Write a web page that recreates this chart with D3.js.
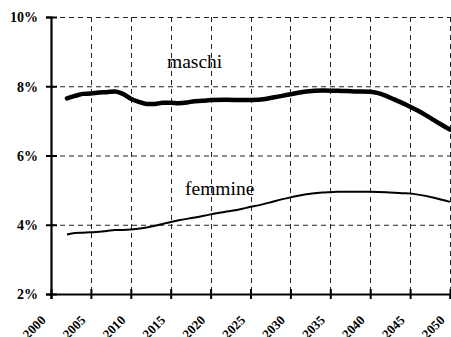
<!DOCTYPE html>
<html>
<head>
<meta charset="utf-8">
<script src="https://cdn.jsdelivr.net/npm/d3@7"></script>
<style>
  html, body { margin: 0; padding: 0; background: #fff; }
  svg { display: block; }
</style>
</head>
<body>
<svg id="chart" width="451" height="337"></svg>
<script>
// Quota percentuale per anno
const maschiYears = [2002,2003,2004,2005,2006,2007,2008,2009,2010,2011,2012,2013,2014,2015,2016,2017,2018,2019,2020,2022,2024,2026,2028,2030,2032,2034,2036,2038,2040,2041,2042,2043,2044,2045,2046,2047,2048,2049,2050];
const maschiValues = [7.65,7.72,7.78,7.79,7.82,7.83,7.85,7.78,7.64,7.55,7.49,7.49,7.52,7.52,7.51,7.53,7.57,7.58,7.60,7.61,7.60,7.61,7.68,7.77,7.85,7.88,7.87,7.85,7.84,7.80,7.72,7.62,7.52,7.41,7.29,7.16,7.02,6.88,6.75];

const femmineYears = [2002,2003,2004,2005,2006,2007,2008,2009,2010,2012,2014,2015,2016,2018,2020,2022,2024,2025,2026,2028,2030,2032,2034,2035,2036,2038,2040,2042,2044,2045,2046,2048,2050];
const femmineValues = [3.72,3.76,3.77,3.78,3.80,3.82,3.85,3.85,3.86,3.92,4.02,4.08,4.13,4.21,4.30,4.38,4.46,4.52,4.56,4.68,4.79,4.88,4.93,4.94,4.95,4.95,4.95,4.94,4.91,4.90,4.87,4.78,4.66];

const xTicks = [2000,2005,2010,2015,2020,2025,2030,2035,2040,2045,2050];
const yTicks = [2,4,6,8,10];

const serif = "'Liberation Serif', 'DejaVu Serif', serif";

const svg = d3.select("#chart");
const x = d3.scaleLinear().domain([2000, 2050]).range([51, 450]);
const y = d3.scaleLinear().domain([2, 10]).range([294, 17]);

// Griglia tratteggiata
const grid = svg.append("g").attr("stroke", "#222").attr("stroke-width", 1)
  .attr("stroke-dasharray", "5,4").attr("fill", "none");
grid.selectAll("line.h").data(yTicks.filter(d => d > 2)).join("line")
  .attr("x1", x(2000)).attr("x2", x(2050))
  .attr("y1", d => y(d) + 0.5).attr("y2", d => y(d) + 0.5);
grid.selectAll("line.v").data(xTicks.filter(d => d > 2000)).join("line")
  .attr("x1", d => Math.round(x(d)) + 0.5).attr("x2", d => Math.round(x(d)) + 0.5)
  .attr("y1", y(10)).attr("y2", y(2));

// Assi
const yAxis = d3.axisLeft(y).tickValues(yTicks).tickSize(5).tickFormat(d => d + "%");
const gy = svg.append("g").attr("transform", `translate(${x(2000)},0)`).call(yAxis);
gy.attr("font-family", serif);
gy.select(".domain").attr("stroke", "#000").attr("stroke-width", 2.2);
gy.selectAll(".tick line").attr("x1", -5).attr("x2", 6).attr("stroke", "#000").attr("stroke-width", 2);
gy.selectAll(".tick text").attr("x", -13).attr("dy", "0.35em")
  .attr("font-weight", "bold").attr("font-size", 14).attr("fill", "#000");

const xAxis = d3.axisBottom(x).tickValues(xTicks).tickSize(5).tickFormat(d3.format("d"));
const gx = svg.append("g").attr("transform", `translate(0,${y(2)})`).call(xAxis);
gx.attr("font-family", serif);
gx.select(".domain").attr("stroke", "#000").attr("stroke-width", 2.2);
gx.selectAll(".tick line").attr("y1", -5).attr("y2", 5).attr("stroke", "#000").attr("stroke-width", 2);
gx.selectAll(".tick text")
  .attr("font-weight", "bold").attr("font-size", 13).attr("fill", "#000")
  .attr("text-anchor", "end").attr("dy", 0).attr("y", 0)
  .attr("transform", "translate(-5,27) rotate(-45)");

// Linee
const line = d3.line().x(d => x(d[0])).y(d => y(d[1])).curve(d3.curveMonotoneX);
svg.append("path").datum(maschiYears.map((yr, i) => [yr, maschiValues[i]]))
  .attr("fill", "none").attr("stroke", "#000").attr("stroke-width", 4.5)
  .attr("stroke-linejoin", "round").attr("stroke-linecap", "round").attr("d", line);
svg.append("path").datum(femmineYears.map((yr, i) => [yr, femmineValues[i]]))
  .attr("fill", "none").attr("stroke", "#000").attr("stroke-width", 2)
  .attr("stroke-linejoin", "round").attr("d", line);

// Etichette delle serie
svg.append("text").attr("x", 167).attr("y", 68).text("maschi")
  .attr("font-family", serif).attr("font-size", 19.5).attr("fill", "#000");
svg.append("text").attr("x", 185).attr("y", 195).text("femmine")
  .attr("font-family", serif).attr("font-size", 19.5).attr("fill", "#000");
</script>
</body>
</html>
